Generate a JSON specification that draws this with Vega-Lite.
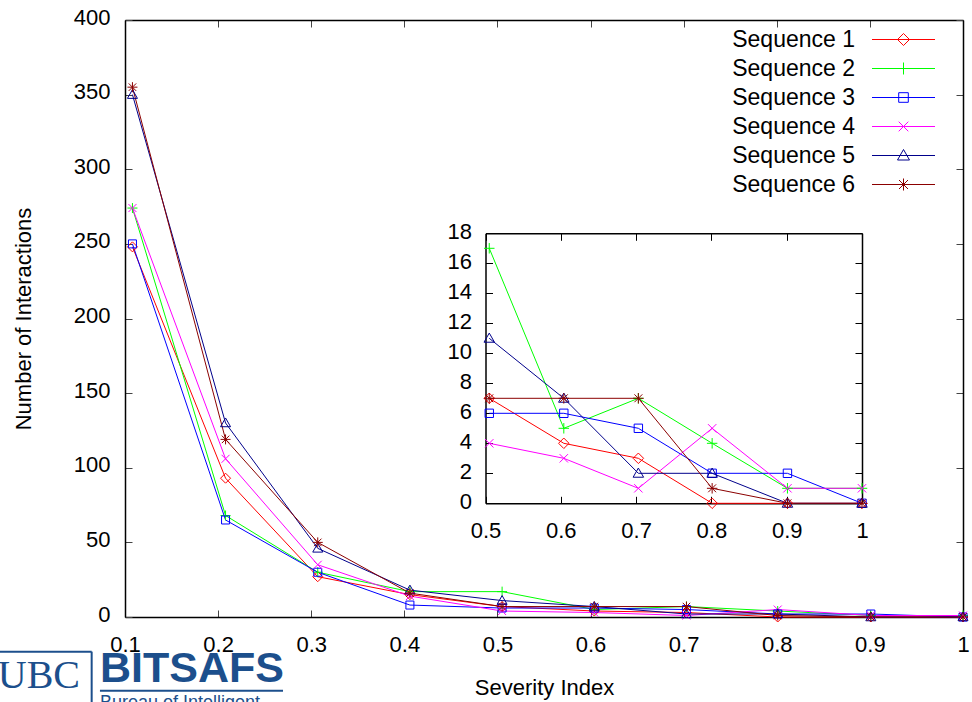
{
  "$schema": "https://vega.github.io/schema/vega-lite/v6.json",
  "width": 838,
  "height": 597,
  "autosize": {"type": "none"},
  "padding": {"left": 125, "top": 20, "right": 9, "bottom": 85},
  "config": {
    "view": {"stroke": null},
    "font": "Liberation Sans",
    "axis": {
      "grid": false,
      "domainColor": "black",
      "domainWidth": 1.5,
      "tickColor": "#444",
      "tickWidth": 1,
      "tickSize": -7,
      "labelFont": "Liberation Sans",
      "labelFontSize": 22,
      "labelColor": "black",
      "labelFlush": false,
      "labelOverlap": false,
      "labelBound": false,
      "titleFont": "Liberation Sans",
      "titleFontSize": 22,
      "titleFontWeight": "normal",
      "titleColor": "black"
    }
  },
  "datasets": {
    "seq": [
      {"s": "Sequence 1", "x": 0.108, "n": 248}, {"s": "Sequence 1", "x": 0.208, "n": 93}, {"s": "Sequence 1", "x": 0.307, "n": 27}, {"s": "Sequence 1", "x": 0.406, "n": 15}, {"s": "Sequence 1", "x": 0.505, "n": 7}, {"s": "Sequence 1", "x": 0.604, "n": 4}, {"s": "Sequence 1", "x": 0.703, "n": 3}, {"s": "Sequence 1", "x": 0.801, "n": 0}, {"s": "Sequence 1", "x": 0.901, "n": 0}, {"s": "Sequence 1", "x": 1.0, "n": 0},
      {"s": "Sequence 2", "x": 0.108, "n": 274}, {"s": "Sequence 2", "x": 0.208, "n": 68}, {"s": "Sequence 2", "x": 0.307, "n": 30}, {"s": "Sequence 2", "x": 0.406, "n": 17}, {"s": "Sequence 2", "x": 0.505, "n": 17}, {"s": "Sequence 2", "x": 0.604, "n": 5}, {"s": "Sequence 2", "x": 0.703, "n": 7}, {"s": "Sequence 2", "x": 0.801, "n": 4}, {"s": "Sequence 2", "x": 0.901, "n": 1}, {"s": "Sequence 2", "x": 1.0, "n": 1},
      {"s": "Sequence 3", "x": 0.108, "n": 250}, {"s": "Sequence 3", "x": 0.208, "n": 65}, {"s": "Sequence 3", "x": 0.307, "n": 30}, {"s": "Sequence 3", "x": 0.406, "n": 8}, {"s": "Sequence 3", "x": 0.505, "n": 6}, {"s": "Sequence 3", "x": 0.604, "n": 6}, {"s": "Sequence 3", "x": 0.703, "n": 5}, {"s": "Sequence 3", "x": 0.801, "n": 2}, {"s": "Sequence 3", "x": 0.901, "n": 2}, {"s": "Sequence 3", "x": 1.0, "n": 0},
      {"s": "Sequence 4", "x": 0.108, "n": 274}, {"s": "Sequence 4", "x": 0.208, "n": 106}, {"s": "Sequence 4", "x": 0.307, "n": 35}, {"s": "Sequence 4", "x": 0.406, "n": 14}, {"s": "Sequence 4", "x": 0.505, "n": 4}, {"s": "Sequence 4", "x": 0.604, "n": 3}, {"s": "Sequence 4", "x": 0.703, "n": 1}, {"s": "Sequence 4", "x": 0.801, "n": 5}, {"s": "Sequence 4", "x": 0.901, "n": 1}, {"s": "Sequence 4", "x": 1.0, "n": 1},
      {"s": "Sequence 5", "x": 0.108, "n": 350}, {"s": "Sequence 5", "x": 0.208, "n": 130}, {"s": "Sequence 5", "x": 0.307, "n": 46}, {"s": "Sequence 5", "x": 0.406, "n": 18}, {"s": "Sequence 5", "x": 0.505, "n": 11}, {"s": "Sequence 5", "x": 0.604, "n": 7}, {"s": "Sequence 5", "x": 0.703, "n": 2}, {"s": "Sequence 5", "x": 0.801, "n": 2}, {"s": "Sequence 5", "x": 0.901, "n": 0}, {"s": "Sequence 5", "x": 1.0, "n": 0},
      {"s": "Sequence 6", "x": 0.108, "n": 355}, {"s": "Sequence 6", "x": 0.208, "n": 119}, {"s": "Sequence 6", "x": 0.307, "n": 50}, {"s": "Sequence 6", "x": 0.406, "n": 16}, {"s": "Sequence 6", "x": 0.505, "n": 7}, {"s": "Sequence 6", "x": 0.604, "n": 7}, {"s": "Sequence 6", "x": 0.703, "n": 7}, {"s": "Sequence 6", "x": 0.801, "n": 1}, {"s": "Sequence 6", "x": 0.901, "n": 0}, {"s": "Sequence 6", "x": 1.0, "n": 0}
    ]
  },
  "layer": [
    {
      "layer": [
        {
          "data": {"name": "seq"},
          "mark": {"type": "line", "strokeWidth": 1},
          "encoding": {
            "x": {"field": "x", "type": "quantitative", "scale": {"domain": [0.1, 1], "nice": false, "zero": false},
              "axis": {"orient": "bottom", "values": [0.1, 0.2, 0.3, 0.4, 0.5, 0.6, 0.7, 0.8, 0.9, 1], "format": ".1~f", "title": "Severity Index", "labelPadding": 24, "titlePadding": 22}},
            "y": {"field": "n", "type": "quantitative", "scale": {"domain": [0, 400], "nice": false},
              "axis": {"orient": "left", "values": [0, 50, 100, 150, 200, 250, 300, 350, 400], "format": "d", "title": "Number of Interactions", "labelPadding": 22, "labelOffset": -3, "titlePadding": 38}},
            "color": {"field": "s", "type": "nominal", "legend": null,
              "scale": {"domain": ["Sequence 1", "Sequence 2", "Sequence 3", "Sequence 4", "Sequence 5", "Sequence 6"], "range": ["#ff0000", "#00ff00", "#0000ff", "#ff00ff", "#00008b", "#8b0000"]}}
          }
        },
        {
          "data": {"name": "seq"},
          "mark": {"type": "point", "filled": false, "strokeWidth": 1, "size": 100, "opacity": 1},
          "encoding": {
            "x": {"field": "x", "type": "quantitative",
              "axis": {"orient": "top", "values": [0.1, 0.2, 0.3, 0.4, 0.5, 0.6, 0.7, 0.8, 0.9, 1], "labels": false, "title": null}},
            "y": {"field": "n", "type": "quantitative",
              "axis": {"orient": "right", "values": [0, 50, 100, 150, 200, 250, 300, 350, 400], "labels": false, "title": null}},
            "color": {"field": "s", "type": "nominal", "legend": null},
            "shape": {"field": "s", "type": "nominal", "legend": null,
              "scale": {"domain": ["Sequence 1", "Sequence 2", "Sequence 3", "Sequence 4", "Sequence 5", "Sequence 6"], "range": ["M0,-1L1,0L0,1L-1,0Z", "M-1,0H1M0,-1V1", "M-0.8,-0.8H0.8V0.8H-0.8Z", "M-0.8,-0.8L0.8,0.8M-0.8,0.8L0.8,-0.8", "M0,-1L1,0.75H-1Z", "M-1,0H1M0,-1V1M-0.75,-0.75L0.75,0.75M-0.75,0.75L0.75,-0.75"]}}
          }
        },
        {
          "data": {"values": [{}]},
          "mark": {"type": "text", "font": "Liberation Serif", "fontSize": 40, "align": "right", "baseline": "alphabetic", "color": "#1c4f8c"},
          "encoding": {
            "x": {"datum": 0.0517, "type": "quantitative", "axis": null},
            "y": {"datum": -47.6, "type": "quantitative", "axis": null},
            "text": {"value": "UBC"}
          }
        },
        {
          "data": {"values": [{}]},
          "mark": {"type": "text", "font": "Liberation Sans", "fontSize": 43, "fontWeight": "bold", "align": "left", "baseline": "alphabetic", "color": "#1c4f8c"},
          "encoding": {
            "x": {"datum": 0.0731, "type": "quantitative", "axis": null},
            "y": {"datum": -43.3, "type": "quantitative", "axis": null},
            "text": {"value": "BITSAFS"}
          }
        },
        {
          "data": {"values": [{}]},
          "mark": {"type": "text", "font": "Liberation Sans", "fontSize": 18, "align": "left", "baseline": "top", "color": "#1c4f8c"},
          "encoding": {
            "x": {"datum": 0.0731, "type": "quantitative", "axis": null},
            "y": {"datum": -51.6, "type": "quantitative", "axis": null},
            "text": {"value": "Bureau of Intelligent"}
          }
        },
        {
          "data": {"values": [{}]},
          "mark": {"type": "rule", "strokeWidth": 2, "color": "#1c4f8c"},
          "encoding": {
            "x": {"datum": 0.0731, "type": "quantitative", "axis": null},
            "x2": {"datum": 0.2697},
            "y": {"datum": -49.4, "type": "quantitative", "axis": null}
          }
        },
        {
          "data": {"values": [{}]},
          "mark": {"type": "rule", "strokeWidth": 2, "color": "#1c4f8c"},
          "encoding": {
            "x": {"datum": 0.0642, "type": "quantitative", "axis": null},
            "y": {"datum": -23.2, "type": "quantitative", "axis": null},
            "y2": {"datum": -62}
          }
        },
        {
          "data": {"values": [{}]},
          "mark": {"type": "rule", "strokeWidth": 2, "color": "#1c4f8c"},
          "encoding": {
            "x": {"datum": -0.04, "type": "quantitative", "axis": null},
            "x2": {"datum": 0.0642},
            "y": {"datum": -23.2, "type": "quantitative", "axis": null}
          }
        }
      ],
      "resolve": {"axis": {"x": "independent", "y": "independent"}}
    },
    {
      "data": {"name": "seq"},
      "transform": [{"filter": "datum.x >= 0.5"}],
      "layer": [
        {
          "mark": {"type": "line", "strokeWidth": 1},
          "encoding": {
            "x": {"field": "x", "type": "quantitative", "scale": {"domain": [0.5, 1], "range": [360.5, 737], "nice": false, "zero": false},
              "axis": {"orient": "bottom", "offset": -113.7, "values": [0.5, 0.6, 0.7, 0.8, 0.9, 1], "format": ".1~f", "title": null, "labelPadding": 24, "tickColor": "black"}},
            "y": {"field": "n", "type": "quantitative", "scale": {"domain": [0, 18], "range": [483.3, 213.3], "nice": false},
              "axis": {"orient": "left", "offset": -360.5, "values": [0, 2, 4, 6, 8, 10, 12, 14, 16, 18], "format": "d", "title": null, "labelPadding": 21, "labelOffset": -2, "tickColor": "black"}},
            "color": {"field": "s", "type": "nominal", "legend": null,
              "scale": {"domain": ["Sequence 1", "Sequence 2", "Sequence 3", "Sequence 4", "Sequence 5", "Sequence 6"], "range": ["#ff0000", "#00ff00", "#0000ff", "#ff00ff", "#00008b", "#8b0000"]}}
          }
        },
        {
          "mark": {"type": "point", "filled": false, "strokeWidth": 1, "size": 110, "opacity": 1},
          "encoding": {
            "x": {"field": "x", "type": "quantitative",
              "axis": {"orient": "top", "offset": -213.3, "values": [0.5, 0.6, 0.7, 0.8, 0.9, 1], "labels": false, "title": null, "tickColor": "black"}},
            "y": {"field": "n", "type": "quantitative",
              "axis": {"orient": "right", "offset": -101, "values": [0, 2, 4, 6, 8, 10, 12, 14, 16, 18], "labels": false, "title": null, "tickColor": "black"}},
            "color": {"field": "s", "type": "nominal", "legend": null},
            "shape": {"field": "s", "type": "nominal", "legend": null,
              "scale": {"domain": ["Sequence 1", "Sequence 2", "Sequence 3", "Sequence 4", "Sequence 5", "Sequence 6"], "range": ["M0,-1L1,0L0,1L-1,0Z", "M-1,0H1M0,-1V1", "M-0.8,-0.8H0.8V0.8H-0.8Z", "M-0.8,-0.8L0.8,0.8M-0.8,0.8L0.8,-0.8", "M0,-1L1,0.75H-1Z", "M-1,0H1M0,-1V1M-0.75,-0.75L0.75,0.75M-0.75,0.75L0.75,-0.75"]}}
          }
        }
      ],
      "resolve": {"axis": {"x": "independent", "y": "independent"}}
    },
    {
      "data": {"name": "seq"},
      "transform": [{"filter": "datum.n < 0"}],
      "mark": {"type": "point", "filled": false, "strokeWidth": 1, "size": 144},
      "encoding": {
        "color": {"field": "s", "type": "nominal",
          "scale": {"domain": ["Sequence 1", "Sequence 2", "Sequence 3", "Sequence 4", "Sequence 5", "Sequence 6"], "range": ["#ff0000", "#00ff00", "#0000ff", "#ff00ff", "#00008b", "#8b0000"]},
          "legend": {"orient": "none", "legendX": 767, "legendY": 8, "title": null, "padding": 0, "labelFontSize": 23, "labelColor": "black", "labelAlign": "right", "labelOffset": -60, "symbolSize": 144, "symbolStrokeWidth": 1, "symbolOpacity": 1, "rowPadding": 5}},
        "shape": {"field": "s", "type": "nominal",
          "scale": {"domain": ["Sequence 1", "Sequence 2", "Sequence 3", "Sequence 4", "Sequence 5", "Sequence 6"], "range": ["M-5.25,0H5.25M0,-1L1,0L0,1L-1,0Z", "M-5.25,0H5.25M0,-1V1", "M-5.25,0H5.25M-0.8,-0.8H0.8V0.8H-0.8Z", "M-5.25,0H5.25M-0.8,-0.8L0.8,0.8M-0.8,0.8L0.8,-0.8", "M-5.25,0H5.25M0,-1L1,0.75H-1Z", "M-5.25,0H5.25M-1,0H1M0,-1V1M-0.75,-0.75L0.75,0.75M-0.75,0.75L0.75,-0.75"]},
          "legend": {"orient": "none", "legendX": 767, "legendY": 8, "title": null, "padding": 0, "labelFontSize": 23, "labelColor": "black", "labelAlign": "right", "labelOffset": -60, "symbolSize": 144, "symbolStrokeWidth": 1, "symbolOpacity": 1, "rowPadding": 5}}
      }
    }
  ],
  "resolve": {"scale": {"x": "independent", "y": "independent", "color": "independent", "shape": "independent"}}
}
